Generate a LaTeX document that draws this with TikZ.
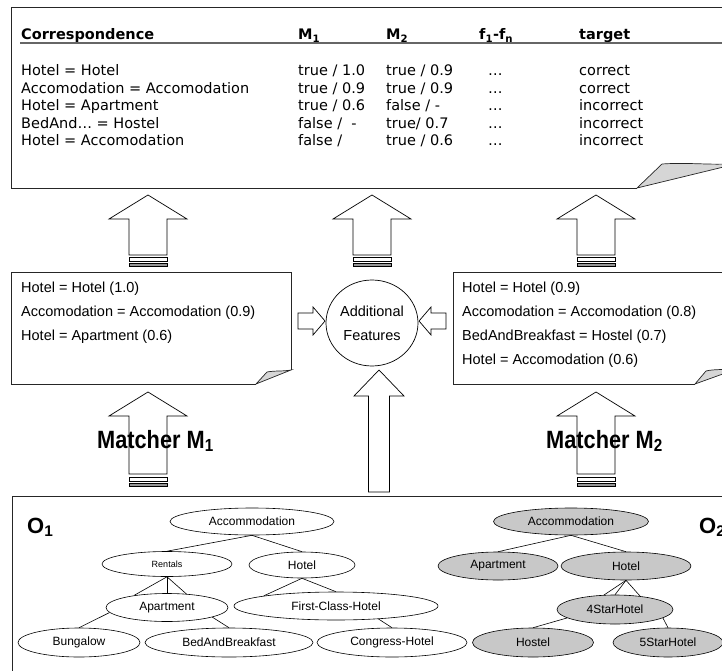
\documentclass[tikz,border=0pt]{standalone}
\usepackage{fontspec}
\setmainfont{Liberation Sans}
\newfontfamily\tablefont{DejaVu Sans}
\usepackage{graphicx}
\usetikzlibrary{calc,positioning,shapes.geometric}
\definecolor{foldgray}{RGB}{214,214,214}
\definecolor{nodegray}{RGB}{200,200,200}
\definecolor{bargray}{RGB}{150,150,150}

% hollow block arrow: centre x, tip y, head base y, shaft end y, head half width, shaft half width
\newcommand{\blockarrow}[6]{%
  \draw[arrowline] (#1-#6,#4) -- (#1-#6,#3) -- (#1-#5,#3) -- (#1,#2)
    -- (#1+#5,#3) -- (#1+#6,#3) -- (#1+#6,#4) -- cycle;}
% the two small bars under an arrow: centre x, half width, top y
\newcommand{\arrowbars}[3]{%
  \draw[line width=0.6pt,fill=white] (#1-#2,#3) rectangle (#1+#2,#3+4.5);
  \draw[line width=0.6pt,fill=bargray] (#1-#2,#3+6.5) rectangle (#1+#2,#3+9);}

\begin{document}
\begin{tikzpicture}[x=1pt,y=-1pt,
    box/.style={draw=black!85,line width=0.9pt},
    fold/.style={draw=black!85,line width=0.7pt,fill=foldgray},
    arrowline/.style={draw=black,line width=0.7pt,fill=white},
    tabtxt/.style={anchor=base west,inner sep=0pt,font=\tablefont\fontsize{14.5}{17}\selectfont},
    tabhead/.style={tabtxt,font=\tablefont\bfseries\fontsize{14.5}{17}\selectfont},
    notetxt/.style={anchor=base west,inner sep=0pt,font=\fontsize{14.5}{17}\selectfont},
    bigtxt/.style={anchor=base west,inner sep=0pt},
    tree/.style={ellipse,draw,line width=0.6pt,inner sep=0pt,fill=white,
      font=\fontsize{12}{13}\selectfont},
    treeB/.style={tree,fill=nodegray},
    edge/.style={line width=0.6pt}]
  \useasboundingbox (0,0) rectangle (722,671);
  \clip (0,0) rectangle (722,671);

  % table of correspondences
  \draw[box] (637,188) -- (11,188) -- (11,7) -- (760,7);
  \draw[fold] (637,188) -- (662,164) .. controls (690,162) and (715,166) .. (740,163) -- cycle;
  \node[tabhead] (hcor) at (21,40) {Correspondence};
  \node[tabhead] (hm1) at (298,40) {M\textsubscript{1}};
  \node[tabhead] (hm2) at (386,40) {M\textsubscript{2}};
  \node[tabhead] (hf) at (479,40) {f\textsubscript{1}-f\textsubscript{n}};
  \node[tabhead] (htg) at (579,40) {target};
  \draw[gray!80!black,line width=1.4pt] (20,43) -- (760,43);

  \node[tabtxt] at (21,76) {Hotel = Hotel};
  \node[tabtxt] at (298,76) {true / 1.0};
  \node[tabtxt] at (386,76) {true / 0.9};
  \node[tabtxt] at (488,76) {\ldots};
  \node[tabtxt] at (579,76) {correct};

  \node[tabtxt] at (21,93.5) {Accomodation = Accomodation};
  \node[tabtxt] at (298,93.5) {true / 0.9};
  \node[tabtxt] at (386,93.5) {true / 0.9};
  \node[tabtxt] at (488,93.5) {\ldots};
  \node[tabtxt] at (579,93.5) {correct};

  \node[tabtxt] at (21,111) {Hotel = Apartment};
  \node[tabtxt] at (298,111) {true / 0.6};
  \node[tabtxt] at (386,111) {false / -};
  \node[tabtxt] at (488,111) {\ldots};
  \node[tabtxt] at (579,111) {incorrect};

  \node[tabtxt] at (21,128.5) {BedAnd\ldots{} = Hostel};
  \node[tabtxt] at (298,128.5) {false /\ \ -};
  \node[tabtxt] at (386,128.5) {true/ 0.7};
  \node[tabtxt] at (488,128.5) {\ldots};
  \node[tabtxt] at (579,128.5) {incorrect};

  \node[tabtxt] at (21,146) {Hotel = Accomodation};
  \node[tabtxt] at (298,146) {false /};
  \node[tabtxt] at (386,146) {true / 0.6};
  \node[tabtxt] at (488,146) {\ldots};
  \node[tabtxt] at (579,146) {incorrect};

  % arrows up to the table
  \foreach \cx in {148,372,596}{
    \blockarrow{\cx}{195}{219}{255}{39}{19}
    \arrowbars{\cx}{19}{257}
  }

  % results of matcher M1
  \draw[box] (256,384) -- (11,384) -- (11,272) -- (291,272) -- (291,370);
  \draw[fold] (256,384) -- (267,372) .. controls (275,370.5) and (283,371.5) .. (291,370) -- cycle;
  \node[notetxt] at (21,292) {Hotel = Hotel (1.0)};
  \node[notetxt] at (21,316) {Accomodation = Accomodation (0.9)};
  \node[notetxt] at (21,340) {Hotel = Apartment (0.6)};

  % results of matcher M2
  \draw[box] (695,384) -- (453,384) -- (453,272) -- (760,272);
  \draw[fold] (695,384) -- (706,371) .. controls (714,369) and (724,370) .. (738,368.5) -- cycle;
  \node[notetxt] at (462,292) {Hotel = Hotel (0.9)};
  \node[notetxt] at (462,316) {Accomodation = Accomodation (0.8)};
  \node[notetxt] at (462,340) {BedAndBreakfast = Hostel (0.7)};
  \node[notetxt] at (462,364) {Hotel = Accomodation (0.6)};

  % additional features
  \node[ellipse,draw,line width=0.7pt,minimum width=92pt,minimum height=86pt,inner sep=0pt,
    align=center,font=\fontsize{14.5}{24}\selectfont] (feat) at (372,323) {Additional\\Features};
  \draw[arrowline] (298,313) -- (313,313) -- (313,307) -- (325,321) -- (313,335) -- (313,329) -- (298,329) -- cycle;
  \draw[arrowline] (446,313) -- (431,313) -- (431,307) -- (419,321) -- (431,335) -- (431,329) -- (446,329) -- cycle;

  % matchers
  \foreach \cx in {148,596}{
    \blockarrow{\cx}{392}{416}{474}{39}{19}
    \arrowbars{\cx}{19}{477}
  }
  \blockarrow{379}{370}{396}{492}{25}{10.5}
  \node[bigtxt] (mat1) at (97,448) {\scalebox{0.87}[1]{\fontsize{25}{25}\selectfont\bfseries Matcher M\textsubscript{1}}};
  \node[bigtxt] (mat2) at (546,448) {\scalebox{0.87}[1]{\fontsize{25}{25}\selectfont\bfseries Matcher M\textsubscript{2}}};

  % ontologies
  \draw[box] (12,700) -- (12,496) -- (760,496);
  \node[bigtxt] (o1) at (27,533) {\fontsize{22}{22}\selectfont\bfseries O\textsubscript{1}};
  \node[bigtxt] (o2) at (699,533) {\fontsize{22}{22}\selectfont\bfseries O\textsubscript{2}};

  % O1
  \node[tree,minimum width=164pt,minimum height=27pt] (acc1) at (252,521.5) {Accommodation};
  \node[tree,minimum width=130pt,minimum height=25pt,font=\fontsize{9}{10}\selectfont] (ren) at (167,564) {Rentals};
  \node[tree,minimum width=106pt,minimum height=26pt] (hot1) at (302,565) {Hotel};
  \node[tree,minimum width=122pt,minimum height=28pt] (apt1) at (167,607.5) {Apartment};
  \node[tree,minimum width=204pt,minimum height=28pt] (fch) at (336,606) {First-Class-Hotel};
  \node[tree,minimum width=122pt,minimum height=29pt] (bung) at (79,642.5) {Bungalow};
  \node[tree,minimum width=168pt,minimum height=29pt] (bab) at (229,642.5) {BedAndBreakfast};
  \node[tree,minimum width=150pt,minimum height=29pt] (cong) at (392,642.5) {Congress-Hotel};
  \draw[edge] (acc1.south) -- (ren.north);
  \draw[edge] (acc1.south) -- (hot1.north);
  \draw[edge] (ren.south) -- (apt1.160);
  \draw[edge] (ren.south) -- (apt1.north);
  \draw[edge] (ren.south) -- (apt1.35);
  \draw[edge] (hot1.south) -- (fch.north);
  \draw[edge] (hot1.south) -- (fch.north west);
  \draw[edge] (apt1.185) -- (bung.north);
  \draw[edge] (apt1.-12) -- (bab.north);
  \draw[edge] (fch.-17) -- (cong.north);

  % O2
  \node[treeB,minimum width=155pt,minimum height=27pt] (acc2) at (571,521.5) {Accommodation};
  \node[treeB,minimum width=120pt,minimum height=28pt] (apt2) at (498,566) {Apartment};
  \node[treeB,minimum width=130pt,minimum height=28pt] (hot2) at (626,566) {Hotel};
  \node[treeB,minimum width=116pt,minimum height=29pt] (star4) at (615,609.5) {4StarHotel};
  \node[treeB,minimum width=121pt,minimum height=29pt] (hos) at (533,642.5) {Hostel};
  \node[treeB,minimum width=110pt,minimum height=29pt] (star5) at (668,642.5) {5StarHotel};
  \draw[edge] (acc2.south) -- (apt2.north);
  \draw[edge] (acc2.south) -- (hot2.north);
  \draw[edge] (hot2.south) -- (star4.127);
  \draw[edge] (hot2.south) -- (star4.north);
  \draw[edge] (hot2.south) -- (star4.28);
  \draw[edge] (star4.190) -- (hos.north);
  \draw[edge] (star4.-10) -- (star5.north);
\end{tikzpicture}
\end{document}
